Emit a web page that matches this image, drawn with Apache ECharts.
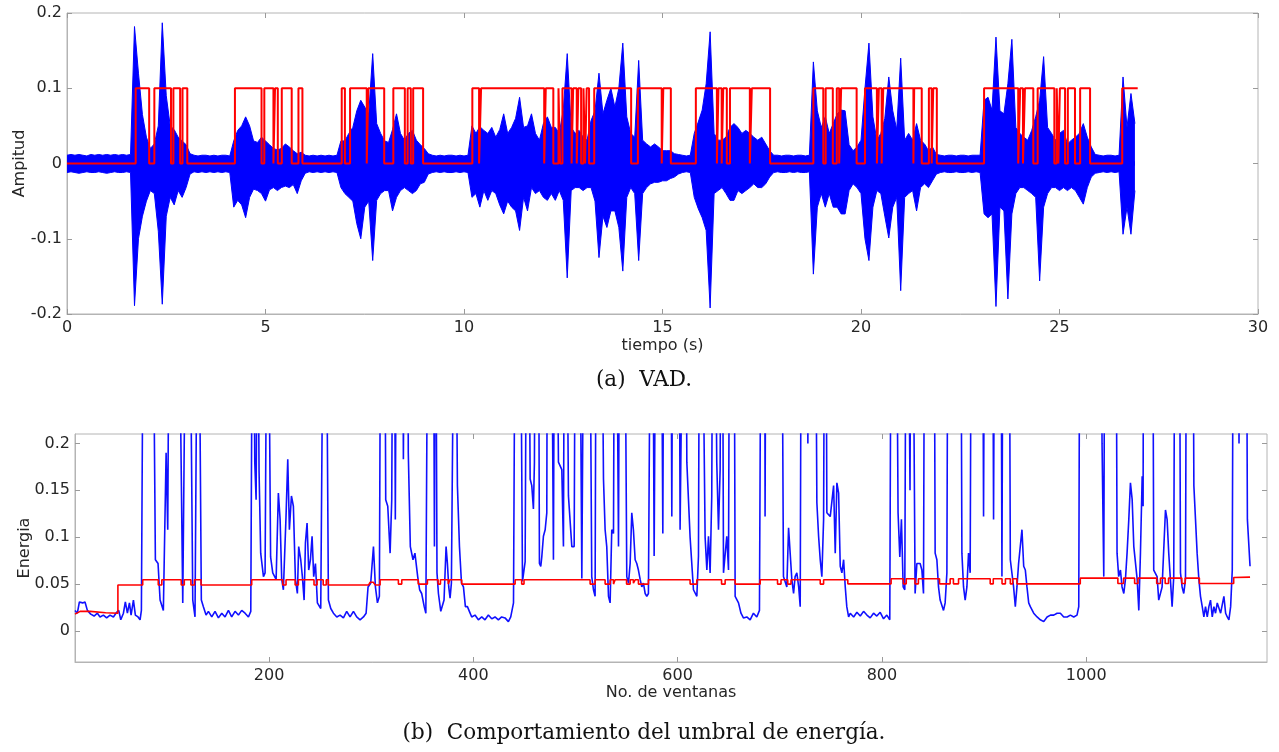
<!DOCTYPE html>
<html><head><meta charset="utf-8">
<script src="https://cdn.jsdelivr.net/npm/echarts@6/dist/echarts.min.js"></script>
<style>html,body{margin:0;padding:0;background:#fff;}#c{width:1279px;height:752px;}</style>
</head><body><div id="c"></div>
<script>
// ---------- (a) VAD : waveform envelope sampled every 0.1 s ----------
const waveStep = 0.1;
const waveUpper = [
  // 0.0-1.6 silence
  0.011,0.012,0.011,0.012,0.011,0.010,0.012,0.011,0.012,0.011,0.012,0.011,0.012,0.011,0.012,0.011,0.012,
  // 1.7-3.1
  0.182,0.12,0.065,0.035,0.02,0.026,0.05,0.187,0.09,0.05,0.045,0.035,0.03,0.025,0.013,
  // 3.2-4.1
  0.011,0.010,0.011,0.011,0.010,0.011,0.010,0.011,0.011,0.010,
  // 4.2-6.0
  0.03,0.044,0.05,0.062,0.05,0.03,0.028,0.035,0.03,0.025,0.02,0.018,0.02,0.026,0.022,0.017,0.013,0.015,0.011,
  // 6.1-6.8
  0.010,0.011,0.010,0.011,0.010,0.011,0.010,0.011,
  // 6.9-9.1
  0.03,0.03,0.04,0.048,0.07,0.084,0.075,0.066,0.146,0.053,0.04,0.03,0.028,0.045,0.066,0.04,0.031,0.04,0.044,0.031,0.025,0.02,0.013,
  // 9.2-10.1
  0.011,0.010,0.011,0.010,0.011,0.011,0.010,0.011,0.010,0.011,
  // 10.2-17.7
  0.05,0.04,0.049,0.044,0.04,0.048,0.035,0.045,
  0.066,0.04,0.048,0.06,0.088,0.048,0.05,0.066,0.04,0.031,
  0.053,0.062,0.048,0.048,0.04,0.071,0.146,0.048,0.04,0.044,
  0.035,0.031,0.057,0.07,0.12,0.066,0.084,0.1,0.075,0.1,
  0.16,0.062,0.04,0.035,0.137,0.031,0.026,0.022,0.026,0.022,
  0.017,0.017,0.017,0.013,0.012,0.011,0.010,0.011,0.04,0.055,
  0.071,0.106,0.175,0.04,0.031,0.031,0.035,0.048,0.053,0.048,
  0.04,0.044,0.04,0.035,0.031,0.035,0.026,0.017,
  // 17.8-18.7
  0.011,0.011,0.010,0.011,0.011,0.010,0.011,0.011,0.010,0.011,
  // 18.8-21.9
  0.135,0.07,
  0.048,0.062,0.04,0.053,0.066,0.071,0.07,0.025,0.017,0.022,
  0.031,0.1,0.16,0.062,0.031,0.04,0.06,0.115,0.07,0.045,
  0.14,0.031,0.04,0.031,0.053,0.031,0.026,0.017,0.022,0.012,
  // 22.0-23.0
  0.011,0.010,0.011,0.011,0.010,0.011,0.011,0.010,0.011,0.011,0.011,
  // 23.1-25.9
  0.084,0.088,0.071,0.168,0.07,0.066,0.106,0.165,0.048,
  0.04,0.035,0.031,0.044,0.062,0.084,0.142,0.048,0.04,0.031,
  0.04,0.044,0.026,0.031,0.035,0.04,0.053,0.035,0.022,0.012,
  // 26.0-26.5
  0.011,0.010,0.011,0.011,0.010,0.011,
  // 26.6-26.9
  0.115,0.048,0.093,0.053
];
const waveLower = [
  -0.012,-0.011,-0.012,-0.013,-0.012,-0.011,-0.012,-0.012,-0.011,-0.012,-0.013,-0.012,-0.011,-0.012,-0.012,-0.011,-0.012,
  -0.189,-0.10,-0.07,-0.05,-0.036,-0.04,-0.09,-0.187,-0.07,-0.045,-0.055,-0.036,-0.045,-0.032,-0.014,
  -0.011,-0.012,-0.011,-0.012,-0.011,-0.012,-0.011,-0.012,-0.011,-0.012,
  -0.058,-0.049,-0.055,-0.072,-0.045,-0.034,-0.036,-0.04,-0.05,-0.035,-0.032,-0.036,-0.032,-0.03,-0.032,-0.028,-0.04,-0.023,-0.013,
  -0.011,-0.012,-0.011,-0.012,-0.011,-0.012,-0.011,-0.012,
  -0.032,-0.04,-0.045,-0.05,-0.08,-0.1,-0.058,-0.05,-0.129,-0.049,-0.04,-0.036,-0.036,-0.063,-0.045,-0.036,-0.032,-0.036,-0.04,-0.036,-0.027,-0.025,-0.014,
  -0.012,-0.011,-0.012,-0.011,-0.012,-0.012,-0.011,-0.012,-0.011,-0.012,
  -0.045,-0.04,-0.058,-0.036,-0.049,-0.036,-0.04,-0.055,
  -0.067,-0.05,-0.058,-0.063,-0.089,-0.045,-0.063,-0.032,-0.04,-0.036,
  -0.045,-0.049,-0.04,-0.049,-0.036,-0.049,-0.152,-0.036,-0.032,-0.032,
  -0.036,-0.032,-0.032,-0.05,-0.125,-0.07,-0.085,-0.063,-0.063,-0.085,
  -0.143,-0.045,-0.032,-0.04,-0.129,-0.04,-0.032,-0.027,-0.025,-0.025,
  -0.023,-0.023,-0.02,-0.018,-0.014,-0.012,-0.011,-0.012,-0.045,-0.06,
  -0.072,-0.089,-0.192,-0.04,-0.036,-0.032,-0.04,-0.049,-0.049,-0.036,
  -0.04,-0.036,-0.032,-0.027,-0.032,-0.032,-0.027,-0.018,
  -0.012,-0.011,-0.012,-0.012,-0.011,-0.012,-0.011,-0.012,-0.012,-0.011,
  -0.147,-0.058,
  -0.04,-0.058,-0.04,-0.058,-0.058,-0.067,-0.067,-0.036,-0.027,-0.032,
  -0.04,-0.1,-0.129,-0.058,-0.036,-0.04,-0.07,-0.099,-0.058,-0.045,
  -0.169,-0.045,-0.04,-0.036,-0.063,-0.032,-0.027,-0.032,-0.023,-0.014,
  -0.012,-0.011,-0.012,-0.012,-0.011,-0.012,-0.012,-0.011,-0.012,-0.011,-0.012,
  -0.067,-0.072,-0.067,-0.19,-0.058,-0.063,-0.18,-0.067,-0.04,
  -0.032,-0.032,-0.036,-0.04,-0.045,-0.156,-0.058,-0.04,-0.032,-0.032,
  -0.036,-0.032,-0.036,-0.032,-0.036,-0.045,-0.054,-0.032,-0.018,-0.013,
  -0.012,-0.011,-0.012,-0.011,-0.012,-0.011,
  -0.094,-0.058,-0.094,-0.036
];
// VAD decision: speech-on / speech-off instants (s), level of the "on" state
const vadOn  = [1.73,2.20,2.68,2.91, 4.23,4.97,5.24,5.41,5.83, 6.92,7.13,7.59,8.22,8.58,8.72,
  10.21,10.43,12.06,12.38,12.48,12.75,12.88,13.01,13.09,13.28,14.38,15.02,
  15.84,16.41,16.53,16.70,17.25, 18.80,19.11,19.39,19.50,20.10,20.45,20.56,21.34,21.71,21.82,
  23.10,24.01,24.13,24.45,24.93,25.01,25.21,25.52,26.58];
const vadOff = [2.07,2.62,2.85,3.03, 4.90,5.20,5.31,5.66,5.93, 7.00,7.55,7.99,8.51,8.66,8.97,
  10.38,12.02,12.25,12.42,12.71,12.84,12.95,13.05,13.15,14.21,14.98,15.21,
  16.37,16.49,16.62,17.20,17.71, 19.05,19.29,19.45,19.89,20.40,20.52,21.32,21.53,21.78,21.91,
  23.96,24.08,24.34,24.87,24.97,25.14,25.39,25.77,26.97];
const vadLevel = 0.1;

// ---------- (b) energy per window [window, energy] and adaptive threshold ----------
const energyPoints = [
 [10,0.022],[12.3,0.019],[14.3,0.031],[17.5,0.030],[19.8,0.031],[22.1,0.022],[25.4,0.018],[28.7,0.016],[31.9,0.019],[34.5,0.015],[37.8,0.017],[41,0.014],[44.3,0.017],[47.6,0.015],[50.8,0.020],[52.8,0.022],[54.8,0.012],[57.4,0.019],[59.3,0.031],[61.3,0.019],[63.3,0.030],[64.9,0.017],[67.2,0.033],[69.1,0.017],[71.7,0.015],[73.7,0.012],[75,0.022],
 [77.5,0.5],[85.5,0.5],[88.7,0.076],[91.3,0.072],[93.3,0.033],[96.5,0.022],[99.2,0.19],[100.8,0.108],[102.8,0.5],[110.5,0.5],[115.5,0.030],[116.8,0.031],[119.5,0.5],[121.5,0.5],[125.3,0.033],[127.5,0.015],[130.5,0.5],[133.7,0.033],[135.7,0.026],[138.3,0.017],[140.6,0.021],[143.9,0.015],[147.1,0.021],[150.4,0.014],[153.7,0.019],[156.9,0.015],[160.2,0.022],[163.4,0.015],[166.7,0.021],[170,0.017],[173.2,0.022],[176.5,0.019],[179.8,0.015],[182.1,0.021],
 [184.2,0.5],[186,0.18],[187.3,0.14],[188.8,0.4],[190.2,0.17],[191.8,0.083],[194.5,0.058],[196.1,0.062],[198.5,0.5],[199.5,0.5],[201.5,0.079],[203.6,0.062],[206.9,0.055],[209.1,0.147],[210.8,0.119],[212.4,0.055],[214,0.044],[216.6,0.122],[218.3,0.183],[219.9,0.108],[221.9,0.144],[223.8,0.133],[225.8,0.055],[227.7,0.040],[229,0.090],[231,0.076],[232.6,0.058],[234.3,0.033],[235.6,0.094],[237.2,0.115],[238.8,0.065],[240.5,0.076],[242.1,0.101],[243.7,0.058],[245.4,0.072],[247.3,0.030],[250.6,0.024],[252.5,0.3],[254,0.6],[256.5,0.3],[258.1,0.033],[260.4,0.024],[263,0.019],[266.3,0.015],[269.5,0.017],[272.8,0.014],[276,0.021],[279.3,0.015],[282.6,0.021],[285.8,0.015],[289.1,0.012],[292.4,0.015],[295,0.019],[296.9,0.047],[299.5,0.051],[302.2,0.090],[304.1,0.047],[306.1,0.030],[308,0.037],
 [310,0.6],[312.5,0.6],[314.2,0.14],[316.2,0.133],[318.5,0.083],[320.1,0.14],[322,0.6],[323.6,0.119],[325.6,0.6],[330,0.6],[331.5,0.183],[333.5,0.6],[335.5,0.5],[336.3,0.19],[338.3,0.09],[340.9,0.076],[342.8,0.083],[345.5,0.058],[347.4,0.044],[349.4,0.040],[351.9,0.026],[353.5,0.019],
 [356,0.5],[360.5,0.5],[361.9,0.09],[362.8,0.5],[364.4,0.062],[365.8,0.040],[368.1,0.021],[370,0.019],[371.3,0.033],[373.3,0.090],[374.6,0.072],[375.9,0.047],[377.2,0.035],[378.5,0.051],[379.8,0.051],[382,0.5],[384.4,0.155],[386.4,0.090],[388.4,0.051],[390.3,0.047],[392.2,0.026],[394.2,0.026],[396.1,0.021],[398.4,0.015],[401.6,0.017],[404.9,0.012],[408.2,0.015],[411.4,0.012],[414.7,0.017],[418,0.013],[421.2,0.015],[424.5,0.012],[427.7,0.015],[431,0.014],[434.3,0.010],[436.6,0.015],[439.3,0.030],
 [441.9,0.6],[444.8,0.6],[448.1,0.053],[450.7,0.074],[453,0.6],[454.9,0.6],[455.6,0.162],[457.2,0.155],[458.8,0.13],[459.8,0.18],[461.1,0.6],[463.1,0.6],[464.7,0.072],[466,0.069],[467,0.079],[468.6,0.101],[470.3,0.108],[471.9,0.126],[472.9,0.6],[475.2,0.6],[478.4,0.076],[480.1,0.6],[483.3,0.18],[485,0.18],[486.6,0.172],[488.2,0.09],[489.8,0.6],[493.1,0.144],[496.4,0.09],[498.7,0.09],[500.6,0.6],[502.9,0.6],[506.2,0.056],[509.4,0.6],[512.7,0.6],[515.9,0.058],[517.6,0.044],[519.2,0.037],[520.8,0.6],[524.1,0.6],[527.4,0.162],[529,0.108],[530.6,0.09],[532.3,0.037],[533.9,0.03],[535.5,0.108],[537.2,0.104],[538.8,0.6],[540.4,0.6],[542.1,0.09],[543.7,0.6],[547,0.6],[550.2,0.058],[551.9,0.051],[553.5,0.072],[555.1,0.126],[556.7,0.108],[558.4,0.076],[560,0.072],[561.6,0.065],[563.3,0.055],[564.9,0.047],[566.5,0.051],[568.2,0.04],[569.8,0.037],[571.4,0.04],
 [574.7,0.6],[577,0.08],[579.6,0.6],[582.9,0.6],[585.5,0.104],[587.1,0.6],[592.6,0.6],[594.3,0.122],[595.9,0.6],[600.8,0.6],[602.4,0.108],[607.3,0.6],[609,0.18],[612.2,0.1],[615.5,0.044],[618.8,0.037],[620.4,0.08],[622,0.6],[623.7,0.6],[626.9,0.1],[628.6,0.065],[630.2,0.101],[631.8,0.062],[633.4,0.144],[635.1,0.6],[638.3,0.18],[640,0.108],[641.6,0.172],[643.2,0.6],[644.9,0.062],[648.1,0.101],[649.8,0.065],[651.4,0.6],[654.7,0.6],[656.3,0.037],[659.6,0.03],[662,0.019],[664.4,0.014],[667.7,0.015],[671,0.012],[674.2,0.019],[677.5,0.015],[680.1,0.022],
 [682.5,0.6],[685,0.6],[685.6,0.122],[687,0.6],[701,0.6],[703.6,0.058],[706.9,0.047],[708.6,0.11],[710.2,0.11],[711.8,0.055],[713.5,0.040],[715,0.058],[716.7,0.062],[718.5,0.047],[720,0.026],[721.6,0.6],[726,0.6],[727.5,0.2],[729,0.6],[734,0.6],[736.3,0.137],[738,0.101],[739.6,0.076],[741.2,0.058],[742.9,0.119],[744.5,0.6],[746.1,0.126],[749.4,0.122],[752.7,0.155],[754.3,0.083],[755.9,0.158],[757.6,0.147],[759.2,0.069],[760.8,0.062],[762.5,0.076],[764.1,0.047],[765.6,0.026],[767.4,0.015],
 [769,0.019],[772.3,0.015],[775.5,0.020],[778.8,0.016],[782,0.021],[785.3,0.017],[788.5,0.014],[791.8,0.019],[795,0.016],[798.3,0.020],[801.6,0.013],[804.8,0.017],[807.7,0.012],
 [809.7,0.6],[813,0.6],[815.8,0.126],[817.5,0.079],[819.1,0.119],[820.8,0.047],[822.4,0.044],[824.3,0.6],[827.5,0.15],[829,0.6],[832.5,0.040],[834.2,0.072],[837.4,0.072],[839.1,0.065],[840.7,0.040],[842.3,0.6],[850.5,0.6],[852.1,0.083],[853.8,0.076],[855.4,0.047],[857,0.033],[860.3,0.022],[861.9,0.030],[863.6,0.062],[865.2,0.6],[876.6,0.6],[878.3,0.083],[879.9,0.047],[881.5,0.033],[883.2,0.047],[884.8,0.083],[886.4,0.062],[888.1,0.6],[897.9,0.6],[899.5,0.122],[901.2,0.6],[907.7,0.6],[909.3,0.119],[911,0.6],[916,0.6],[917.5,0.058],[919.1,0.6],[924,0.6],[925.7,0.076],[928.9,0.047],[930.6,0.026],[932.2,0.047],[933.8,0.072],[935.5,0.072],[937.1,0.108],[938.8,0.069],[940.4,0.065],[942,0.047],[943.7,0.030],[945.3,0.026],[948.6,0.019],[951.9,0.015],[955.1,0.012],[958.4,0.010],[961.7,0.015],[965,0.017],[968.2,0.017],[971.5,0.019],[974.7,0.019],[978,0.015],[981.3,0.015],[984.5,0.017],[987.8,0.015],[991,0.017],[992.7,0.026],
 [994.3,0.6],[997.6,0.6],[1013.9,0.6],[1015.5,0.2],[1017.2,0.058],[1018.8,0.6],[1028.6,0.6],[1030.2,0.083],[1031.8,0.058],[1033.5,0.065],[1035.1,0.047],[1036.8,0.040],[1038.4,0.055],[1040,0.083],[1041.7,0.119],[1043.3,0.158],[1045,0.140],[1046.6,0.090],[1049.9,0.055],[1051.5,0.022],[1053.1,0.083],[1054.8,0.165],[1055.7,0.133],[1056.4,0.6],[1064.5,0.6],[1066.1,0.065],[1069.4,0.058],[1071,0.033],[1072.7,0.033],[1074.3,0.047],[1077.6,0.129],[1079.2,0.119],[1080.8,0.083],[1084.1,0.026],[1085.7,0.058],[1087.4,0.6],[1090.6,0.6],[1092.3,0.062],[1093.9,0.047],[1095.5,0.040],[1097.2,0.055],[1098.8,0.6],[1103.7,0.6],[1105.4,0.155],[1107,0.119],[1108.6,0.083],[1110.3,0.055],[1111.9,0.037],[1113.6,0.026],[1115.2,0.015],[1116.8,0.026],[1118.5,0.015],[1120.1,0.026],[1121.7,0.033],[1123.4,0.015],[1125,0.026],[1126.6,0.019],[1128.3,0.030],[1131.6,0.019],[1134.8,0.037],[1136.5,0.019],[1138.1,0.015],[1139.7,0.012],[1141.4,0.026],[1143,0.065],[1144.6,0.6],[1148,0.6],[1149.6,0.2],[1151.2,0.6],[1156.1,0.6],[1157.8,0.119],[1160.4,0.069]
];
const thresholdPoints = [
 [10,0.018],[15,0.021],[25,0.021],[40,0.0195],[52,0.019],[52,0.049],[76.3,0.049],[76.3,0.0546],
 [91.5,0.0546],[91.5,0.049],[95,0.049],[95,0.0546],[114,0.0546],[114,0.049],[117,0.049],[117,0.0546],[123.5,0.0546],[123.5,0.049],[127,0.049],[127,0.0546],[133.4,0.0546],[133.4,0.049],
 [183,0.049],[183,0.0546],[213.4,0.0546],[213.4,0.049],[216.6,0.049],[216.6,0.0546],[225.5,0.0546],[225.5,0.049],[228.7,0.049],[228.7,0.0546],[244,0.0546],[244,0.049],[247,0.049],[247,0.0546],[253,0.0546],[253,0.049],[256,0.049],[256,0.0546],[258,0.0546],[258,0.049],
 [297.3,0.049],[299,0.052],[302,0.052],[304,0.049],[308.7,0.049],[308.7,0.0546],[326.6,0.0546],[326.6,0.050],[329.9,0.050],[329.9,0.0546],[346,0.0546],[346,0.050],
 [355,0.050],[355,0.0546],[365.5,0.0546],[365.5,0.050],[367.8,0.050],[367.8,0.0546],[375.4,0.0546],[375.4,0.050],[377,0.050],[377,0.0546],[388.6,0.0546],[388.6,0.050],
 [440.9,0.050],[440.9,0.0546],[447.3,0.0546],[447.3,0.050],[449.6,0.050],[449.6,0.0546],[514.3,0.0546],[514.3,0.050],[519.2,0.050],[519.2,0.0546],[529,0.0546],[529,0.050],[533.9,0.050],[533.9,0.0546],[537.2,0.0546],[537.2,0.050],[538.8,0.050],[538.8,0.0546],[550,0.0546],[550,0.050],[553.5,0.050],[553.5,0.0546],[556.7,0.0546],[556.7,0.051],[558.4,0.051],[558.4,0.0546],[561.6,0.0546],[561.6,0.050],[571.4,0.050],[571.4,0.0546],
 [612.2,0.0546],[612.2,0.050],[618.8,0.050],[618.8,0.0546],[643,0.0546],[643,0.050],[646.5,0.050],[646.5,0.0546],[656.3,0.0546],[656.3,0.050],
 [680.8,0.050],[680.8,0.0546],[697.8,0.0546],[697.8,0.050],[701.2,0.050],[701.2,0.0546],[707.8,0.0546],[707.8,0.050],[711,0.050],[711,0.0546],[739.6,0.0546],[739.6,0.050],[742.9,0.050],[742.9,0.0546],[766.6,0.0546],[766.6,0.0503],
 [809,0.0503],[809,0.0557],[821,0.0557],[821,0.0503],[823.8,0.0503],[823.8,0.0557],[832.4,0.0557],[832.4,0.0503],[835.7,0.0503],[835.7,0.0557],[856.4,0.0557],[856.4,0.0503],[866.8,0.0503],[866.8,0.0557],[870,0.0557],[870,0.0503],[875,0.0503],[875,0.0557],[906,0.0557],[906,0.0503],[909,0.0503],[909,0.0557],[917.6,0.0557],[917.6,0.0503],[920.9,0.0503],[920.9,0.0557],[925.7,0.0557],[925.7,0.0503],[928,0.0503],[928,0.0557],[932.2,0.0557],[932.2,0.0503],
 [994.2,0.0503],[994.2,0.0564],[1031,0.0564],[1031,0.0507],[1036.6,0.0507],[1036.6,0.0564],[1047.4,0.0564],[1047.4,0.0507],[1050.7,0.0507],[1050.7,0.0564],[1069,0.0564],[1069,0.0507],[1072.7,0.0507],[1072.7,0.0564],[1077.3,0.0564],[1077.3,0.0507],[1080.6,0.0507],[1080.6,0.0564],[1093.6,0.0564],[1093.6,0.0507],[1096.9,0.0507],[1096.9,0.0564],[1110.8,0.0564],[1110.8,0.0507],
 [1144.4,0.0507],[1144.4,0.057],[1160.4,0.0575]
];
// axis ticks
const topXTicks = {min: 0, max: 30, interval: 5};
const topYTicks = {min: -0.2, max: 0.2, interval: 0.1};
const botXTickValues = [200, 400, 600, 800, 1000];
const botYTickValues = [0, 0.05, 0.1, 0.15, 0.2];
const botXRange = [10, 1177];
const botYRange = [-0.033, 0.21];

// ---------- build series data ----------
const upperData = waveUpper.map((v, i) => [+(i * waveStep).toFixed(2), v]);
const lowerData = waveLower.map((v, i) => [+(i * waveStep).toFixed(2), v]);
const vadData = [[0, 0]];
vadOn.forEach((on, i) => {
  vadData.push([on, 0], [on, vadLevel], [vadOff[i], vadLevel]);
  if (i < vadOn.length - 1) vadData.push([vadOff[i], 0]);
});

const FONT = 'DejaVu Sans';
const TXT = '#262626';
const BOX = '#b4b4b4';
const tickStyle = {inside: true, length: 5, lineStyle: {color: '#9a9a9a'}};
const labelStyle = {color: TXT, fontSize: 16, fontFamily: FONT, formatter: v => String(v)};
const nameStyle = {color: TXT, fontSize: 16, fontFamily: FONT};
const lineAx = () => ({show: true, onZero: false, lineStyle: {color: BOX}});
const hiddenLine = () => ({show: false, onZero: false});

const chart = echarts.init(document.getElementById('c'), null, {renderer: 'canvas'});
chart.setOption({
  animation: false,
  backgroundColor: '#ffffff',
  grid: [
    {left: 67, top: 13, width: 1191, height: 301, show: true, borderColor: BOX, borderWidth: 1},
    {left: 75, top: 434, width: 1192, height: 228, show: true, borderColor: BOX, borderWidth: 1}
  ],
  xAxis: [
    {type: 'value', gridIndex: 0, min: topXTicks.min, max: topXTicks.max, interval: topXTicks.interval,
     axisLine: lineAx(), axisTick: tickStyle, splitLine: {show: false},
     axisLabel: Object.assign({margin: 6}, labelStyle),
     name: 'tiempo (s)', nameLocation: 'middle', nameGap: 24, nameMoveOverlap: false, nameTextStyle: nameStyle},
    {type: 'value', gridIndex: 1, min: botXRange[0], max: botXRange[1],
     axisLine: lineAx(), axisTick: Object.assign({customValues: botXTickValues}, tickStyle), splitLine: {show: false},
     axisLabel: Object.assign({margin: 6, customValues: botXTickValues}, labelStyle),
     name: 'No. de ventanas', nameLocation: 'middle', nameGap: 23, nameMoveOverlap: false, nameTextStyle: nameStyle},
    {type: 'value', gridIndex: 0, position: 'top', min: topXTicks.min, max: topXTicks.max, interval: topXTicks.interval,
     axisLine: hiddenLine(), axisTick: tickStyle, axisLabel: {show: false}, splitLine: {show: false}},
    {type: 'value', gridIndex: 1, position: 'top', min: botXRange[0], max: botXRange[1],
     axisLine: hiddenLine(), axisTick: Object.assign({customValues: botXTickValues}, tickStyle), axisLabel: {show: false, customValues: botXTickValues}, splitLine: {show: false}}
  ],
  yAxis: [
    {type: 'value', gridIndex: 0, min: topYTicks.min, max: topYTicks.max, interval: topYTicks.interval,
     axisLine: lineAx(), axisTick: tickStyle, splitLine: {show: false},
     axisLabel: Object.assign({margin: 5}, labelStyle),
     name: 'Ampitud', nameLocation: 'middle', nameGap: 39, nameMoveOverlap: false, nameTextStyle: nameStyle},
    {type: 'value', gridIndex: 1, min: botYRange[0], max: botYRange[1],
     axisLine: lineAx(), axisTick: Object.assign({customValues: botYTickValues}, tickStyle), splitLine: {show: false},
     axisLabel: Object.assign({margin: 5, customValues: botYTickValues}, labelStyle),
     name: 'Energia', nameLocation: 'middle', nameGap: 42, nameMoveOverlap: false, nameTextStyle: nameStyle},
    {type: 'value', gridIndex: 0, position: 'right', min: topYTicks.min, max: topYTicks.max, interval: topYTicks.interval,
     axisLine: hiddenLine(), axisTick: tickStyle, axisLabel: {show: false}, splitLine: {show: false}},
    {type: 'value', gridIndex: 1, position: 'right', min: botYRange[0], max: botYRange[1],
     axisLine: hiddenLine(), axisTick: Object.assign({customValues: botYTickValues}, tickStyle), axisLabel: {show: false, customValues: botYTickValues}, splitLine: {show: false}}
  ],
  series: [
    {type: 'line', xAxisIndex: 0, yAxisIndex: 0, data: upperData, showSymbol: false, symbol: 'none',
     lineStyle: {color: '#0000ff', width: 1}, areaStyle: {color: '#0000ff', opacity: 1, origin: -0.003}, z: 2},
    {type: 'line', xAxisIndex: 0, yAxisIndex: 0, data: lowerData, showSymbol: false, symbol: 'none',
     lineStyle: {color: '#0000ff', width: 1}, areaStyle: {color: '#0000ff', opacity: 1, origin: 0.003}, z: 2},
    {type: 'line', xAxisIndex: 0, yAxisIndex: 0, data: vadData, showSymbol: false, symbol: 'none',
     lineStyle: {color: '#ff0000', width: 2}, z: 3},
    {type: 'line', xAxisIndex: 1, yAxisIndex: 1, data: energyPoints, showSymbol: false, symbol: 'none', clip: true,
     lineStyle: {color: '#1010ff', width: 1.6}, z: 2},
    {type: 'line', xAxisIndex: 1, yAxisIndex: 1, data: thresholdPoints, showSymbol: false, symbol: 'none', clip: true,
     lineStyle: {color: '#ff0000', width: 1.6}, z: 3}
  ],
  graphic: [
    {type: 'text', x: 644, y: 380, style: {text: '(a)  VAD.', font: '21.5px "DejaVu Serif"', fill: '#111', align: 'center', verticalAlign: 'middle'}},
    {type: 'text', x: 644, y: 733, style: {text: '(b)  Comportamiento del umbral de energía.', font: '21.5px "DejaVu Serif"', fill: '#111', align: 'center', verticalAlign: 'middle'}}
  ]
});
</script></body></html>
